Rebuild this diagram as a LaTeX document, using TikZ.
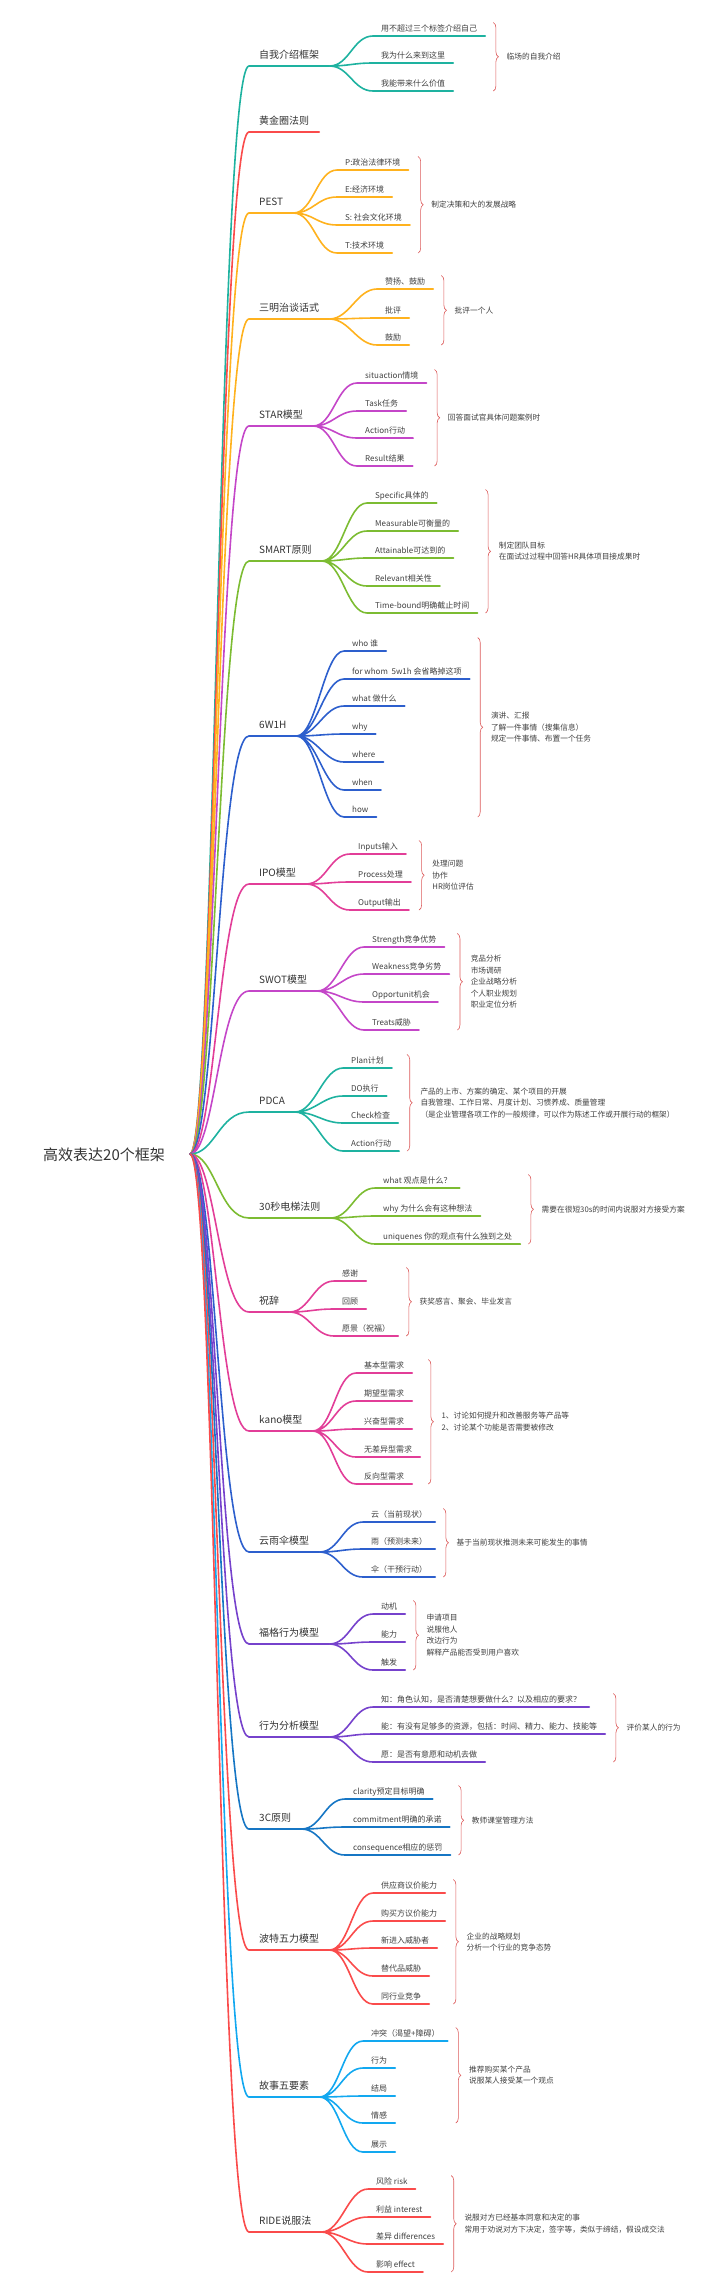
\documentclass[tikz,border=0pt]{standalone}
\usepackage{fontspec}
\setmainfont{Noto Sans CJK SC}
\usepackage{xcolor}
\usepackage{tikz}
\usetikzlibrary{positioning,decorations.pathreplacing}
\definecolor{cTeal}{RGB}{30,178,160}
\definecolor{cRed}{RGB}{250,75,75}
\definecolor{cOrange}{RGB}{255,178,30}
\definecolor{cPurple}{RGB}{196,70,200}
\definecolor{cGreen}{RGB}{124,188,50}
\definecolor{cBlue}{RGB}{45,95,205}
\definecolor{cPink}{RGB}{226,62,152}
\definecolor{cViolet}{RGB}{118,66,204}
\definecolor{cSea}{RGB}{22,118,196}
\definecolor{cSky}{RGB}{18,168,240}
\definecolor{cBrace}{RGB}{220,90,90}

\begin{document}
\begin{tikzpicture}[
    x=1pt, y=-1pt, line cap=round,
    root/.style={font=\fontsize{15}{18}\selectfont, text=black!80},
    branch/.style={anchor=south west, inner xsep=10pt, inner ysep=5pt,
      text height=8pt, text depth=2pt, font=\fontsize{10}{12}\selectfont, text=black!80},
    leaf/.style={anchor=south west, inner xsep=8pt, inner ysep=2.5pt,
      text height=6.5pt, text depth=1.5pt, font=\fontsize{8}{10}\selectfont, text=black!75},
    note/.style={align=left, inner sep=1pt, font=\fontsize{7.7}{11.5}\selectfont, text=black!75},
    limb/.style={line width=1.6pt, to path={.. controls +(25,0) and +(-30,0) .. (\tikztotarget) \tikztonodes}},
    twig/.style={line width=1.6pt, to path={.. controls +(20,0) and +(-20,0) .. (\tikztotarget) \tikztonodes}},
    brc/.style={decorate, decoration={brace, amplitude=5pt}, draw=cBrace, line width=0.6pt}
  ]
    \useasboundingbox (0,0) rectangle (720,2292);
    \node[root] (root) at (104,1155) {高效表达20个框架};
    \coordinate (hub) at (190,1154);

    \node[branch] (b1) at (249,66) {自我介绍框架};
    \node[leaf] (b1a) at (373,36) {用不超过三个标签介绍自己};
    \node[leaf] (b1b) at (373,63) {我为什么来到这里};
    \node[leaf] (b1c) at (373,91) {我能带来什么价值};
    \coordinate (k1) at ([xshift=8pt]b1a.east);
    \draw[brc] (b1a.north -| k1) -- node[note, right=12pt] (n1) {临场的自我介绍} (b1c.south -| k1);
    \draw[limb, cTeal] (hub) to (b1.south west) -- (b1.south east);
    \draw[twig, cTeal] (b1.south east) to (b1a.south west) -- (b1a.south east)
      (b1.south east) to (b1b.south west) -- (b1b.south east)
      (b1.south east) to (b1c.south west) -- (b1c.south east);

    \node[branch] (b2) at (249,132) {黄金圈法则};
    \draw[limb, cRed] (hub) to (b2.south west) -- (b2.south east);

    \node[branch] (b3) at (249,213) {PEST};
    \node[leaf] (b3a) at (337,170) {P:政治法律环境};
    \node[leaf] (b3b) at (337,197) {E:经济环境};
    \node[leaf] (b3c) at (337,225) {S: 社会文化环境};
    \node[leaf] (b3d) at (337,253) {T:技术环境};
    \coordinate (k3) at ([xshift=8pt]b3c.east);
    \draw[brc] (b3a.north -| k3) -- node[note, right=12pt] (n3) {制定决策和大的发展战略} (b3d.south -| k3);
    \draw[limb, cOrange] (hub) to (b3.south west) -- (b3.south east);
    \draw[twig, cOrange] (b3.south east) to (b3a.south west) -- (b3a.south east)
      (b3.south east) to (b3b.south west) -- (b3b.south east)
      (b3.south east) to (b3c.south west) -- (b3c.south east)
      (b3.south east) to (b3d.south west) -- (b3d.south east);

    \node[branch] (b4) at (249,319) {三明治谈话式};
    \node[leaf] (b4a) at (377,289) {赞扬、鼓励};
    \node[leaf] (b4b) at (377,318) {批评};
    \node[leaf] (b4c) at (377,345) {鼓励};
    \coordinate (k4) at ([xshift=8pt]b4a.east);
    \draw[brc] (b4a.north -| k4) -- node[note, right=12pt] (n4) {批评一个人} (b4c.south -| k4);
    \draw[limb, cOrange] (hub) to (b4.south west) -- (b4.south east);
    \draw[twig, cOrange] (b4.south east) to (b4a.south west) -- (b4a.south east)
      (b4.south east) to (b4b.south west) -- (b4b.south east)
      (b4.south east) to (b4c.south west) -- (b4c.south east);

    \node[branch] (b5) at (249,426) {STAR模型};
    \node[leaf] (b5a) at (357,383) {situaction情境};
    \node[leaf] (b5b) at (357,411) {Task任务};
    \node[leaf] (b5c) at (357,438) {Action行动};
    \node[leaf] (b5d) at (357,466) {Result结果};
    \coordinate (k5) at ([xshift=8pt]b5a.east);
    \draw[brc] (b5a.north -| k5) -- node[note, right=12pt] (n5) {回答面试官具体问题案例时} (b5d.south -| k5);
    \draw[limb, cPurple] (hub) to (b5.south west) -- (b5.south east);
    \draw[twig, cPurple] (b5.south east) to (b5a.south west) -- (b5a.south east)
      (b5.south east) to (b5b.south west) -- (b5b.south east)
      (b5.south east) to (b5c.south west) -- (b5c.south east)
      (b5.south east) to (b5d.south west) -- (b5d.south east);

    \node[branch] (b6) at (249,561) {SMART原则};
    \node[leaf] (b6a) at (367,503) {Specific具体的};
    \node[leaf] (b6b) at (367,531) {Measurable可衡量的};
    \node[leaf] (b6c) at (367,558) {Attainable可达到的};
    \node[leaf] (b6d) at (367,586) {Relevant相关性};
    \node[leaf] (b6e) at (367,613) {Time-bound明确截止时间};
    \coordinate (k6) at ([xshift=8pt]b6e.east);
    \draw[brc] (b6a.north -| k6) -- node[note, right=12pt] (n6)
      {制定团队目标\\在面试过过程中回答HR具体项目接成果时} (b6e.south -| k6);
    \draw[limb, cGreen] (hub) to (b6.south west) -- (b6.south east);
    \draw[twig, cGreen] (b6.south east) to (b6a.south west) -- (b6a.south east)
      (b6.south east) to (b6b.south west) -- (b6b.south east)
      (b6.south east) to (b6c.south west) -- (b6c.south east)
      (b6.south east) to (b6d.south west) -- (b6d.south east)
      (b6.south east) to (b6e.south west) -- (b6e.south east);

    \node[branch] (b7) at (249,736) {6W1H};
    \node[leaf] (b7a) at (344,651) {who 谁};
    \node[leaf] (b7b) at (344,679) {for whom\ \ 5w1h 会省略掉这项};
    \node[leaf] (b7c) at (344,706) {what 做什么};
    \node[leaf] (b7d) at (344,734) {why};
    \node[leaf] (b7e) at (344,762) {where};
    \node[leaf] (b7f) at (344,790) {when};
    \node[leaf] (b7g) at (344,817) {how};
    \coordinate (k7) at ([xshift=8pt]b7b.east);
    \draw[brc] (b7a.north -| k7) -- node[note, right=12pt] (n7)
      {演讲、汇报\\了解一件事情（搜集信息）\\规定一件事情、布置一个任务} (b7g.south -| k7);
    \draw[limb, cBlue] (hub) to (b7.south west) -- (b7.south east);
    \draw[twig, cBlue] (b7.south east) to (b7a.south west) -- (b7a.south east)
      (b7.south east) to (b7b.south west) -- (b7b.south east)
      (b7.south east) to (b7c.south west) -- (b7c.south east)
      (b7.south east) to (b7d.south west) -- (b7d.south east)
      (b7.south east) to (b7e.south west) -- (b7e.south east)
      (b7.south east) to (b7f.south west) -- (b7f.south east)
      (b7.south east) to (b7g.south west) -- (b7g.south east);

    \node[branch] (b8) at (249,884) {IPO模型};
    \node[leaf] (b8a) at (350,854) {Inputs输入};
    \node[leaf] (b8b) at (350,882) {Process处理};
    \node[leaf] (b8c) at (350,910) {Output输出};
    \coordinate (k8) at ([xshift=8pt]b8b.east);
    \draw[brc] (b8a.north -| k8) -- node[note, right=12pt] (n8)
      {处理问题\\协作\\HR岗位评估} (b8c.south -| k8);
    \draw[limb, cPink] (hub) to (b8.south west) -- (b8.south east);
    \draw[twig, cPink] (b8.south east) to (b8a.south west) -- (b8a.south east)
      (b8.south east) to (b8b.south west) -- (b8b.south east)
      (b8.south east) to (b8c.south west) -- (b8c.south east);

    \node[branch] (b9) at (249,991) {SWOT模型};
    \node[leaf] (b9a) at (364,947) {Strength竞争优势};
    \node[leaf] (b9b) at (364,974) {Weakness竞争劣势};
    \node[leaf] (b9c) at (364,1002) {Opportunit机会};
    \node[leaf] (b9d) at (364,1030) {Treats威胁};
    \coordinate (k9) at ([xshift=8pt]b9b.east);
    \draw[brc] (b9a.north -| k9) -- node[note, right=12pt] (n9)
      {竞品分析\\市场调研\\企业战略分析\\个人职业规划\\职业定位分析} (b9d.south -| k9);
    \draw[limb, cPurple] (hub) to (b9.south west) -- (b9.south east);
    \draw[twig, cPurple] (b9.south east) to (b9a.south west) -- (b9a.south east)
      (b9.south east) to (b9b.south west) -- (b9b.south east)
      (b9.south east) to (b9c.south west) -- (b9c.south east)
      (b9.south east) to (b9d.south west) -- (b9d.south east);

    \node[branch] (b10) at (249,1112) {PDCA};
    \node[leaf] (b10a) at (343,1068) {Plan计划};
    \node[leaf] (b10b) at (343,1096) {DO执行};
    \node[leaf] (b10c) at (343,1123) {Check检查};
    \node[leaf] (b10d) at (343,1151) {Action行动};
    \coordinate (k10) at ([xshift=8pt]b10d.east);
    \draw[brc] (b10a.north -| k10) -- node[note, right=12pt] (n10)
      {产品的上市、方案的确定、某个项目的开展\\自我管理、工作日常、月度计划、习惯养成、质量管理\\（是企业管理各项工作的一般规律，可以作为陈述工作或开展行动的框架）} (b10d.south -| k10);
    \draw[limb, cTeal] (hub) to (b10.south west) -- (b10.south east);
    \draw[twig, cTeal] (b10.south east) to (b10a.south west) -- (b10a.south east)
      (b10.south east) to (b10b.south west) -- (b10b.south east)
      (b10.south east) to (b10c.south west) -- (b10c.south east)
      (b10.south east) to (b10d.south west) -- (b10d.south east);

    \node[branch] (b11) at (249,1218) {30秒电梯法则};
    \node[leaf] (b11a) at (375,1188) {what 观点是什么？};
    \node[leaf] (b11b) at (375,1216) {why 为什么会有这种想法};
    \node[leaf] (b11c) at (375,1244) {uniquenes 你的观点有什么独到之处};
    \coordinate (k11) at ([xshift=8pt]b11c.east);
    \draw[brc] (b11a.north -| k11) -- node[note, right=12pt] (n11) {需要在很短30s的时间内说服对方接受方案} (b11c.south -| k11);
    \draw[limb, cGreen] (hub) to (b11.south west) -- (b11.south east);
    \draw[twig, cGreen] (b11.south east) to (b11a.south west) -- (b11a.south east)
      (b11.south east) to (b11b.south west) -- (b11b.south east)
      (b11.south east) to (b11c.south west) -- (b11c.south east);

    \node[branch] (b12) at (249,1312) {祝辞};
    \node[leaf] (b12a) at (334,1281) {感谢};
    \node[leaf] (b12b) at (334,1309) {回顾};
    \node[leaf] (b12c) at (334,1336) {愿景（祝福）};
    \coordinate (k12) at ([xshift=8pt]b12c.east);
    \draw[brc] (b12a.north -| k12) -- node[note, right=12pt] (n12) {获奖感言、聚会、毕业发言} (b12c.south -| k12);
    \draw[limb, cPink] (hub) to (b12.south west) -- (b12.south east);
    \draw[twig, cPink] (b12.south east) to (b12a.south west) -- (b12a.south east)
      (b12.south east) to (b12b.south west) -- (b12b.south east)
      (b12.south east) to (b12c.south west) -- (b12c.south east);

    \node[branch] (b13) at (249,1431) {kano模型};
    \node[leaf] (b13a) at (356,1373) {基本型需求};
    \node[leaf] (b13b) at (356,1401) {期望型需求};
    \node[leaf] (b13c) at (356,1429) {兴奋型需求};
    \node[leaf] (b13d) at (356,1457) {无差异型需求};
    \node[leaf] (b13e) at (356,1484) {反向型需求};
    \coordinate (k13) at ([xshift=8pt]b13d.east);
    \draw[brc] (b13a.north -| k13) -- node[note, right=12pt] (n13)
      {1、讨论如何提升和改善服务等产品等\\2、讨论某个功能是否需要被修改} (b13e.south -| k13);
    \draw[limb, cPink] (hub) to (b13.south west) -- (b13.south east);
    \draw[twig, cPink] (b13.south east) to (b13a.south west) -- (b13a.south east)
      (b13.south east) to (b13b.south west) -- (b13b.south east)
      (b13.south east) to (b13c.south west) -- (b13c.south east)
      (b13.south east) to (b13d.south west) -- (b13d.south east)
      (b13.south east) to (b13e.south west) -- (b13e.south east);

    \node[branch] (b14) at (249,1552) {云雨伞模型};
    \node[leaf] (b14a) at (363,1522) {云（当前现状）};
    \node[leaf] (b14b) at (363,1549) {雨（预测未来）};
    \node[leaf] (b14c) at (363,1577) {伞（干预行动）};
    \coordinate (k14) at ([xshift=8pt]b14a.east);
    \draw[brc] (b14a.north -| k14) -- node[note, right=12pt] (n14) {基于当前现状推测未来可能发生的事情} (b14c.south -| k14);
    \draw[limb, cBlue] (hub) to (b14.south west) -- (b14.south east);
    \draw[twig, cBlue] (b14.south east) to (b14a.south west) -- (b14a.south east)
      (b14.south east) to (b14b.south west) -- (b14b.south east)
      (b14.south east) to (b14c.south west) -- (b14c.south east);

    \node[branch] (b15) at (249,1644) {福格行为模型};
    \node[leaf] (b15a) at (373,1614) {动机};
    \node[leaf] (b15b) at (373,1642) {能力};
    \node[leaf] (b15c) at (373,1670) {触发};
    \coordinate (k15) at ([xshift=8pt]b15a.east);
    \draw[brc] (b15a.north -| k15) -- node[note, right=12pt] (n15)
      {申请项目\\说服他人\\改边行为\\解释产品能否受到用户喜欢} (b15c.south -| k15);
    \draw[limb, cViolet] (hub) to (b15.south west) -- (b15.south east);
    \draw[twig, cViolet] (b15.south east) to (b15a.south west) -- (b15a.south east)
      (b15.south east) to (b15b.south west) -- (b15b.south east)
      (b15.south east) to (b15c.south west) -- (b15c.south east);

    \node[branch] (b16) at (249,1737) {行为分析模型};
    \node[leaf] (b16a) at (373,1707) {知：角色认知，是否清楚想要做什么？以及相应的要求？};
    \node[leaf] (b16b) at (373,1734) {能：有没有足够多的资源，包括：时间、精力、能力、技能等};
    \node[leaf] (b16c) at (373,1762) {愿：是否有意愿和动机去做};
    \coordinate (k16) at ([xshift=8pt]b16b.east);
    \draw[brc] (b16a.north -| k16) -- node[note, right=12pt] (n16) {评价某人的行为} (b16c.south -| k16);
    \draw[limb, cViolet] (hub) to (b16.south west) -- (b16.south east);
    \draw[twig, cViolet] (b16.south east) to (b16a.south west) -- (b16a.south east)
      (b16.south east) to (b16b.south west) -- (b16b.south east)
      (b16.south east) to (b16c.south west) -- (b16c.south east);

    \node[branch] (b17) at (249,1829) {3C原则};
    \node[leaf] (b17a) at (345,1799) {clarity预定目标明确};
    \node[leaf] (b17b) at (345,1827) {commitment明确的承诺};
    \node[leaf] (b17c) at (345,1855) {consequence相应的惩罚};
    \coordinate (k17) at ([xshift=8pt]b17c.east);
    \draw[brc] (b17a.north -| k17) -- node[note, right=12pt] (n17) {教师课堂管理方法} (b17c.south -| k17);
    \draw[limb, cSea] (hub) to (b17.south west) -- (b17.south east);
    \draw[twig, cSea] (b17.south east) to (b17a.south west) -- (b17a.south east)
      (b17.south east) to (b17b.south west) -- (b17b.south east)
      (b17.south east) to (b17c.south west) -- (b17c.south east);

    \node[branch] (b18) at (249,1950) {波特五力模型};
    \node[leaf] (b18a) at (373,1893) {供应商议价能力};
    \node[leaf] (b18b) at (373,1921) {购买方议价能力};
    \node[leaf] (b18c) at (373,1948) {新进入威胁者};
    \node[leaf] (b18d) at (373,1976) {替代品威胁};
    \node[leaf] (b18e) at (373,2004) {同行业竞争};
    \coordinate (k18) at ([xshift=8pt]b18a.east);
    \draw[brc] (b18a.north -| k18) -- node[note, right=12pt] (n18)
      {企业的战略规划\\分析一个行业的竞争态势} (b18e.south -| k18);
    \draw[limb, cRed] (hub) to (b18.south west) -- (b18.south east);
    \draw[twig, cRed] (b18.south east) to (b18a.south west) -- (b18a.south east)
      (b18.south east) to (b18b.south west) -- (b18b.south east)
      (b18.south east) to (b18c.south west) -- (b18c.south east)
      (b18.south east) to (b18d.south west) -- (b18d.south east)
      (b18.south east) to (b18e.south west) -- (b18e.south east);

    \node[branch] (b19) at (249,2097) {故事五要素};
    \node[leaf] (b19a) at (363,2041) {冲突（渴望+障碍）};
    \node[leaf] (b19b) at (363,2068) {行为};
    \node[leaf] (b19c) at (363,2096) {结局};
    \node[leaf] (b19d) at (363,2123) {情感};
    \node[leaf] (b19e) at (363,2152) {展示};
    \coordinate (k19) at ([xshift=8pt]b19a.east);
    \draw[brc] (b19a.north -| k19) -- node[note, right=12pt] (n19)
      {推荐购买某个产品\\说服某人接受某一个观点} (b19d.south -| k19);
    \draw[limb, cSky] (hub) to (b19.south west) -- (b19.south east);
    \draw[twig, cSky] (b19.south east) to (b19a.south west) -- (b19a.south east)
      (b19.south east) to (b19b.south west) -- (b19b.south east)
      (b19.south east) to (b19c.south west) -- (b19c.south east)
      (b19.south east) to (b19d.south west) -- (b19d.south east)
      (b19.south east) to (b19e.south west) -- (b19e.south east);

    \node[branch] (b20) at (249,2232) {RIDE说服法};
    \node[leaf] (b20a) at (368,2189) {风险 risk};
    \node[leaf] (b20b) at (368,2217) {利益 interest};
    \node[leaf] (b20c) at (368,2244) {差异 differences};
    \node[leaf] (b20d) at (368,2272) {影响 effect};
    \coordinate (k20) at ([xshift=8pt]b20c.east);
    \draw[brc] (b20a.north -| k20) -- node[note, right=12pt] (n20)
      {说服对方已经基本同意和决定的事\\常用于劝说对方下决定，签字等，类似于缔结，假设成交法} (b20d.south -| k20);
    \draw[limb, cRed] (hub) to (b20.south west) -- (b20.south east);
    \draw[twig, cRed] (b20.south east) to (b20a.south west) -- (b20a.south east)
      (b20.south east) to (b20b.south west) -- (b20b.south east)
      (b20.south east) to (b20c.south west) -- (b20c.south east)
      (b20.south east) to (b20d.south west) -- (b20d.south east);
  \end{tikzpicture}
\end{document}
